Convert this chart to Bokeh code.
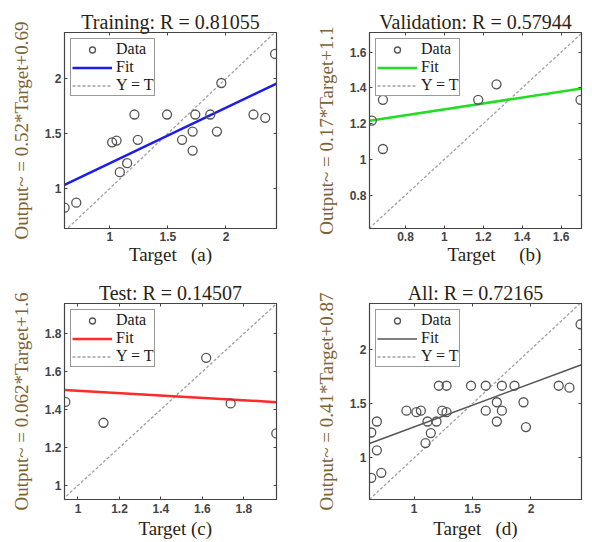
from bokeh.plotting import figure
from bokeh.models import (Range1d, FixedTicker, NumeralTickFormatter, Legend, LegendItem,
                          LinearAxis, CustomJSTickFormatter)
from bokeh.layouts import row, column
from bokeh.embed import file_html
from bokeh.resources import INLINE

# ---------------- data ----------------
train_target = [0.611, 0.711, 1.02, 1.058, 1.086, 1.149, 1.212, 1.241, 1.493, 1.622,
                1.713, 1.713, 1.736, 1.865, 1.922, 1.96, 2.237, 2.338, 2.423]
train_output = [0.825, 0.87, 1.42, 1.436, 1.148, 1.23, 1.673, 1.443, 1.673, 1.443,
                1.518, 1.345, 1.673, 1.673, 1.518, 1.96, 1.673, 1.643, 2.225]

val_target = [0.627, 0.684, 0.684, 1.174, 1.268, 1.70]
val_output = [1.217, 1.333, 1.058, 1.333, 1.42, 1.333]

test_target = [0.939, 1.123, 1.618, 1.736, 1.956]
test_output = [1.44, 1.33, 1.672, 1.432, 1.274]

all_target = [0.634, 0.634, 0.682, 0.682, 0.72, 0.935, 1.02, 1.058, 1.098, 1.115,
              1.143, 1.192, 1.212, 1.241, 1.278, 1.278, 1.487, 1.613, 1.613, 1.708,
              1.708, 1.751, 1.751, 1.859, 1.936, 1.957, 2.237, 2.329, 2.424]
all_output = [1.234, 0.817, 1.335, 1.07, 0.863, 1.435, 1.421, 1.435, 1.137, 1.335,
              1.229, 1.335, 1.664, 1.435, 1.664, 1.421, 1.664, 1.664, 1.435, 1.512,
              1.335, 1.664, 1.435, 1.664, 1.512, 1.284, 1.664, 1.646, 2.229]

# fit lines (slope, intercept)
fit_train = (0.505, 0.725)
fit_val = (0.165, 1.115)
fit_test = (-0.062, 1.56)
fit_all = (0.40, 0.885)

titles = ["Training: R = 0.81055", "Validation: R = 0.57944",
          "Test: R = 0.14507", "All: R = 0.72165"]
ylabels = ["Output~ = 0.52*Target+0.69", "Output~ = 0.17*Target+1.1",
           "Output~ = 0.062*Target+1.6", "Output~ = 0.41*Target+0.87"]
tags = ["(a)", "(b)", "(c)", "(d)"]
xlabel = "Target"

ticks_wide = [1, 1.5, 2]
ticks_val = [0.8, 1, 1.2, 1.4, 1.6]
ticks_test = [1, 1.2, 1.4, 1.6, 1.8]

legend_labels = ["Data", "Fit", "Y = T"]

SERIF = "Liberation Serif"
SANS = "Liberation Sans"
NB = "\u00a0"
FW, FH = 212, 196


def panel(title, ylabel, tx, oy, fit, fit_color, fit_width, xr, yr, xticks, yticks,
          tag, lead, gap, borders, standoffs):
    bl, br, bt, bb = borders
    p = figure(frame_width=FW, frame_height=FH, output_backend="svg",
               toolbar_location=None, x_range=Range1d(*xr), y_range=Range1d(*yr),
               min_border_left=bl, min_border_right=br, min_border_top=bt,
               min_border_bottom=bb)
    p.title.text = title
    p.title.align = "center"
    p.title.text_font = SERIF
    p.title.text_font_size = "20px"
    p.title.text_font_style = "normal"
    p.title.text_color = "#2a1e14"
    p.title.standoff = 0
    p.grid.visible = False
    p.outline_line_color = "#444444"
    p.outline_line_width = 1.2
    p.background_fill_color = "white"
    p.border_fill_color = "white"

    # mirror axes: inward ticks only, no labels
    p.add_layout(LinearAxis(), "right")
    p.add_layout(LinearAxis(), "above")
    blank = CustomJSTickFormatter(code="return ''")
    for ax in p.right + p.above:
        ax.formatter = blank
        ax.major_label_standoff = 0
        ax.major_label_text_font_size = "1px"

    for ax, tk in ((p.xaxis, xticks), (p.yaxis, yticks)):
        ax.ticker = FixedTicker(ticks=tk)
        ax.major_tick_in = 3
        ax.major_tick_out = 0
        ax.minor_tick_line_color = None
        ax.axis_line_color = "#444444"
        ax.major_tick_line_color = "#444444"
    for ax in (p.below[0], p.left[0]):
        ax.formatter = NumeralTickFormatter(format="0.[0]")
        ax.major_label_text_font = SANS
        ax.major_label_text_font_size = "12px"
        ax.major_label_text_font_style = "bold"
        ax.major_label_text_color = "#444444"
    xa = p.below[0]
    ya = p.left[0]
    xa.major_label_standoff = standoffs[0]
    ya.major_label_standoff = 3
    ya.axis_label = ylabel
    ya.axis_label_text_font = SERIF
    ya.axis_label_text_font_size = "19px"
    ya.axis_label_text_font_style = "normal"
    ya.axis_label_text_color = "#7d6235"
    ya.axis_label_standoff = 10
    xa.axis_label = NB * lead + xlabel + NB * gap + tag
    xa.axis_label_text_font = SERIF
    xa.axis_label_text_font_size = "19px"
    xa.axis_label_text_font_style = "normal"
    xa.axis_label_text_color = "#2a1e14"
    xa.axis_label_standoff = standoffs[1]

    lo = min(xr[0], yr[0])
    hi = max(xr[1], yr[1])
    r_id = p.line([lo, hi], [lo, hi], line_color="#a0a0a0", line_width=1.3,
                  line_dash="3 2")
    m, b = fit
    r_fit = p.line([xr[0], xr[1]], [m * xr[0] + b, m * xr[1] + b],
                   line_color=fit_color, line_width=fit_width)
    r_pts = p.scatter(tx, oy, marker="circle", size=9, fill_color=None,
                      line_color="#555555", line_width=1.3)

    leg = Legend(items=[LegendItem(label=legend_labels[0], renderers=[r_pts]),
                        LegendItem(label=legend_labels[1], renderers=[r_fit]),
                        LegendItem(label=legend_labels[2], renderers=[r_id])],
                 location="top_left")
    leg.border_line_color = "#333333"
    leg.border_line_width = 1
    leg.background_fill_color = "white"
    leg.background_fill_alpha = 1
    leg.label_text_font = SERIF
    leg.label_text_font_size = "16px"
    leg.label_text_color = "#1a1a1a"
    leg.glyph_width = 40
    leg.glyph_height = 15
    leg.label_height = 15
    leg.spacing = 0
    leg.padding = 1
    leg.margin = 6
    leg.label_standoff = 4
    p.add_layout(leg)
    return p


pa = panel(titles[0], ylabels[0], train_target, train_output, fit_train, "#1c1cf0", 2.5,
           (0.61, 2.435), (0.635, 2.42), ticks_wide, ticks_wide, tags[0],
           0, 3, (64, 20, 32, 43), (3, 0))
pb = panel(titles[1], ylabels[1], val_target, val_output, fit_val, "#22dd22", 2.5,
           (0.615, 1.705), (0.613, 1.71), ticks_val, ticks_val, tags[1],
           8, 5, (73, 9, 32, 43), (3, 0))
pc = panel(titles[2], ylabels[2], test_target, test_output, fit_test, "#ff2a2a", 2.5,
           (0.935, 1.957), (0.926, 1.958), ticks_test, ticks_test, tags[2],
           2, 1, (64, 20, 32, 41), (4, 2))
pd = panel(titles[3], ylabels[3], all_target, all_output, fit_all, "#555555", 1.6,
           (0.619, 2.432), (0.618, 2.42), ticks_wide, ticks_wide, tags[3],
           0, 3, (73, 9, 32, 41), (4, 2))

layout = column(row(pa, pb), row(pc, pd))
open("out.html", "w").write(file_html(layout, INLINE))
